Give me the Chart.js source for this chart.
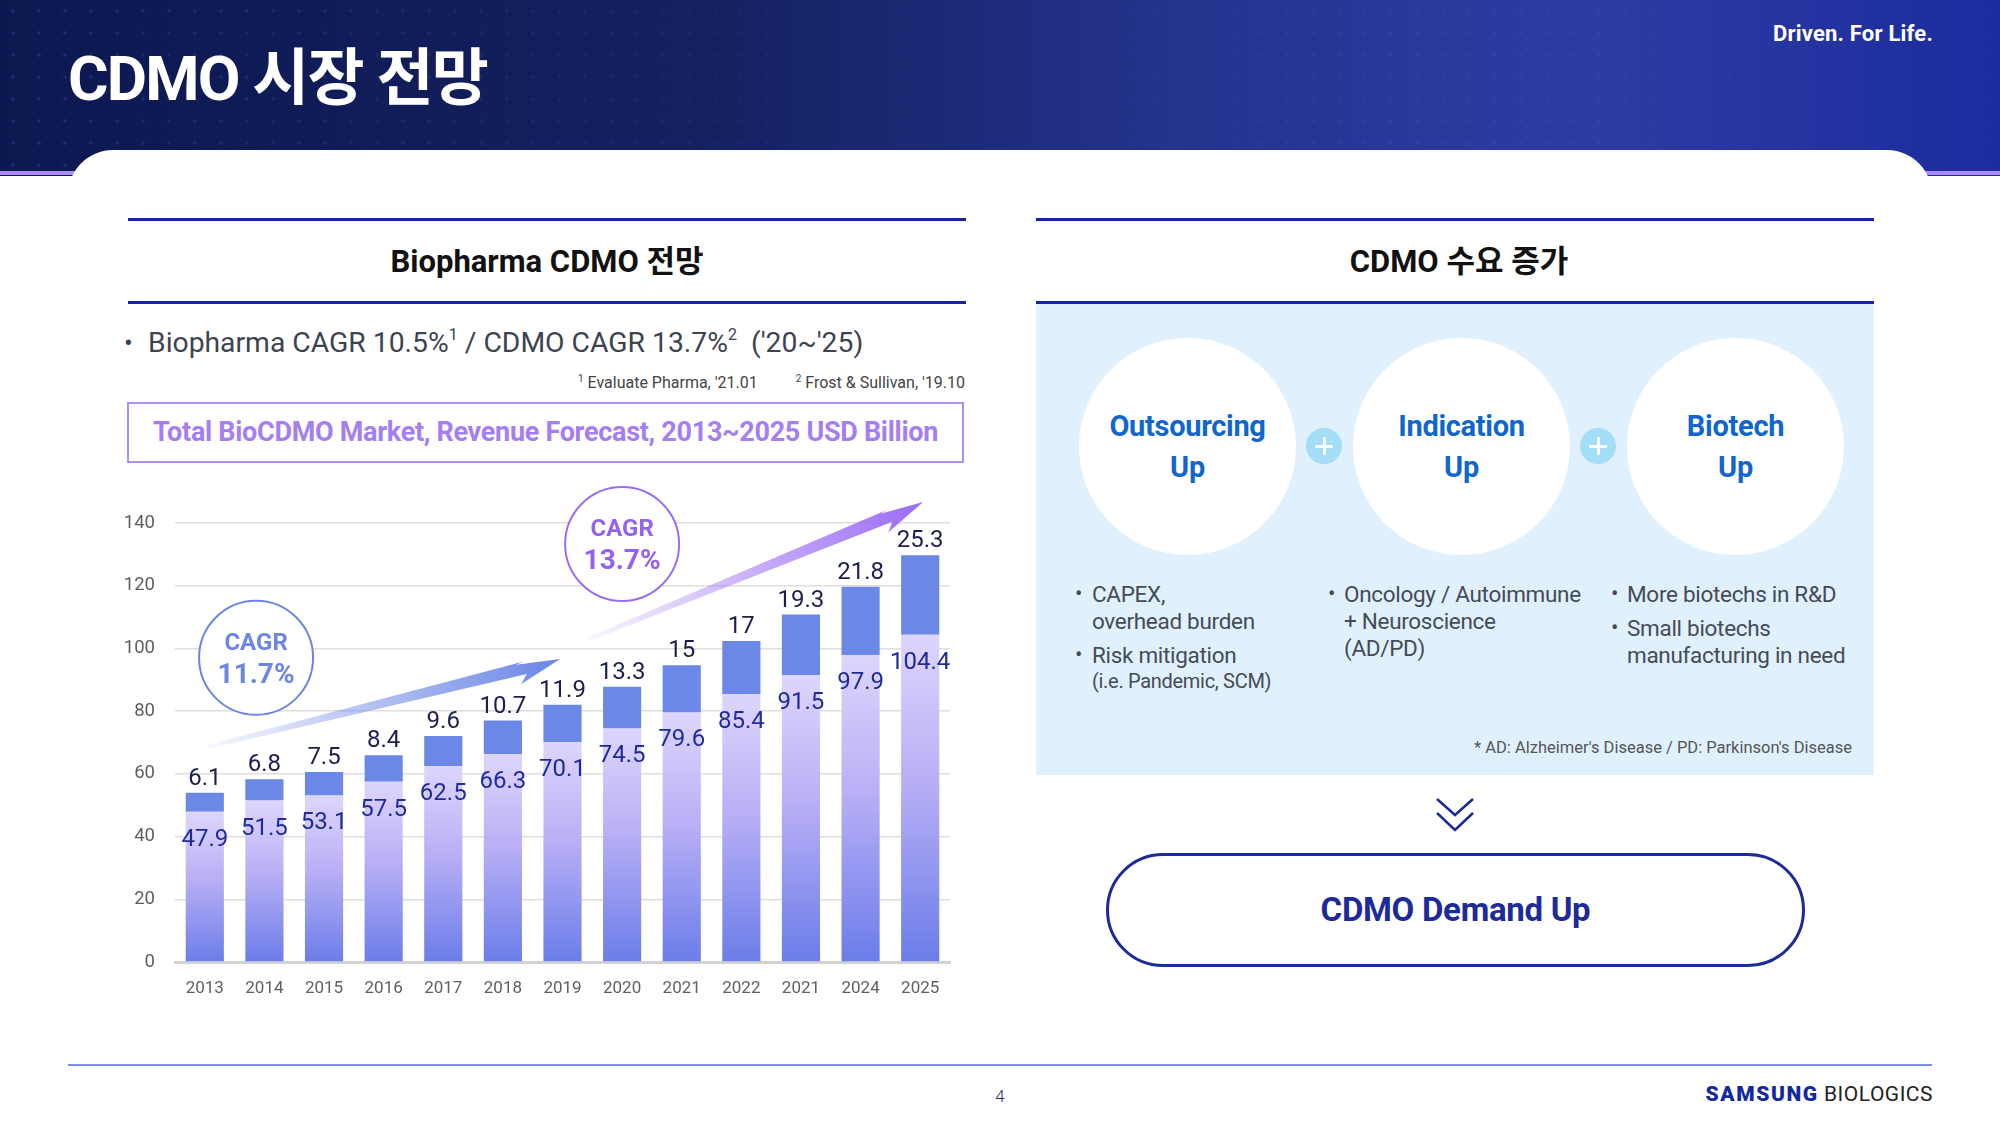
<!DOCTYPE html>
<html lang="ko">
<head>
<meta charset="utf-8">
<script src="https://cdn.jsdelivr.net/npm/chart.js@4.4.0/dist/chart.umd.min.js"></script>
<style>
  html, body { margin:0; padding:0; width:2000px; height:1125px; overflow:hidden; background:#fff; }
  body { position:relative; font-family: "Roboto", "Noto Sans CJK KR", sans-serif; }
  .abs { position:absolute; white-space:nowrap; }
  #header { left:0; top:0; width:2000px; height:176px;
    background: linear-gradient(90deg, #0c1850 0%, #13215f 35%, #25348f 60%, #2d3ca3 80%, #1c2b9e 100%); }
  #header::after { content:""; position:absolute; left:0; top:0; right:0; bottom:0;
    background-image: radial-gradient(circle, rgba(120,130,230,0.35) 1.6px, transparent 2.2px);
    background-size: 26px 22px; opacity:0.45;
    -webkit-mask-image: linear-gradient(90deg, rgba(0,0,0,0.9) 0%, rgba(0,0,0,0.5) 30%, rgba(0,0,0,0) 50%, rgba(0,0,0,0.6) 70%, rgba(0,0,0,0.1) 100%);
    mask-image: linear-gradient(90deg, rgba(0,0,0,0.9) 0%, rgba(0,0,0,0.5) 30%, rgba(0,0,0,0) 50%, rgba(0,0,0,0.6) 70%, rgba(0,0,0,0.1) 100%); }
  #purpleLine { left:0; top:171px; width:2000px; height:4px; background:#a98bf5; }
  #card { left:68px; top:150px; width:1864px; height:975px; background:#fff; border-radius:45px 45px 0 0; }
  .navyLine { height:3px; background:#17279a; }
  .circle { border-radius:50%; background:#fff; }
  .plus { width:36px; height:36px; border-radius:50%; background:#a3ddf6; }
  .plus::before, .plus::after { content:""; position:absolute; background:#fff; border-radius:1px; }
  .plus::before { left:9px; top:16.5px; width:18px; height:3px; }
  .plus::after { left:16.5px; top:9px; width:3px; height:18px; }
  .ctext { color:#1066cf; font-weight:700; font-size:29px; text-align:center; line-height:34px; letter-spacing:-0.3px; }
  .btext { color:#454b57; font-size:22.5px; line-height:28px; letter-spacing:-0.3px; }
  .dot { color:#454b57; font-size:22px; line-height:28px; }
</style>
</head>
<body>
<div id="header" class="abs"></div>
<div id="purpleLine" class="abs"></div>
<div id="card" class="abs"></div>

<div class="abs" style="left:68px; top:43px; font-size:62px; line-height:72px; font-weight:700; color:#fff; letter-spacing:-1.8px;">CDMO 시장 전망</div>
<div class="abs" style="right:67px; top:21px; font-size:22px; line-height:26px; font-weight:700; color:#fff; letter-spacing:0.2px;">Driven. For Life.</div>

<!-- Left panel -->
<div class="abs navyLine" style="left:128px; top:218px; width:838px;"></div>
<div class="abs navyLine" style="left:128px; top:301px; width:838px;"></div>
<div class="abs" style="left:128px; top:244px; width:838px; text-align:center; font-size:31px; line-height:36px; font-weight:700; color:#111;">Biopharma CDMO 전망</div>
<div class="abs" style="left:124px; top:326px; font-size:26px; line-height:34px; color:#3d4350;">•</div>
<div class="abs" style="left:148px; top:326px; font-size:28.3px; line-height:34px; color:#3d4350;">Biopharma CAGR 10.5%<span style="font-size:16px; position:relative; top:-12px;">1</span> / CDMO CAGR 13.7%<span style="font-size:16px; position:relative; top:-12px;">2</span>&nbsp; ('20~'25)</div>
<div class="abs" style="right:1035px; top:373px; font-size:16px; line-height:20px; color:#444;"><span style="font-size:10px; position:relative; top:-6px;">1</span> Evaluate Pharma, '21.01<span style="display:inline-block; width:38px;"></span><span style="font-size:10px; position:relative; top:-6px;">2</span> Frost &amp; Sullivan, '19.10</div>
<div class="abs" style="left:127px; top:402px; width:833px; height:57px; border:2px solid #ab90f6; text-align:center; font-size:27px; line-height:57px; font-weight:700; color:#a57ef3; letter-spacing:-0.3px;">Total BioCDMO Market, Revenue Forecast, 2013~2025 USD Billion</div>

<canvas id="chart" class="abs" width="870" height="540" style="left:100px; top:470px; width:870px; height:540px;"></canvas>

<!-- Right panel -->
<div class="abs navyLine" style="left:1036px; top:218px; width:838px;"></div>
<div class="abs" style="left:1040px; top:244px; width:838px; text-align:center; font-size:31px; line-height:36px; font-weight:700; color:#111;">CDMO 수요 증가</div>
<div class="abs" style="left:1036px; top:302px; width:838px; height:473px; background:#e0f1fd;"></div>
<div class="abs navyLine" style="left:1036px; top:301px; width:838px;"></div>

<div class="abs circle" style="left:1079px; top:338px; width:217px; height:217px;"></div>
<div class="abs circle" style="left:1353px; top:338px; width:217px; height:217px;"></div>
<div class="abs circle" style="left:1627px; top:338px; width:217px; height:217px;"></div>
<div class="abs ctext" style="left:1079px; width:217px; top:409px;">Outsourcing</div>
<div class="abs ctext" style="left:1079px; width:217px; top:450px;">Up</div>
<div class="abs ctext" style="left:1353px; width:217px; top:409px;">Indication</div>
<div class="abs ctext" style="left:1353px; width:217px; top:450px;">Up</div>
<div class="abs ctext" style="left:1627px; width:217px; top:409px;">Biotech</div>
<div class="abs ctext" style="left:1627px; width:217px; top:450px;">Up</div>
<div class="abs plus" style="left:1306px; top:428px;"></div>
<div class="abs plus" style="left:1580px; top:428px;"></div>

<div class="abs dot" style="left:1075px; top:580px;">•</div>
<div class="abs btext" style="left:1092px; top:580px;">CAPEX,</div>
<div class="abs btext" style="left:1092px; top:607px;">overhead burden</div>
<div class="abs dot" style="left:1075px; top:641px;">•</div>
<div class="abs btext" style="left:1092px; top:641px;">Risk mitigation</div>
<div class="abs btext" style="left:1092px; top:669px; font-size:20px; line-height:24px;">(i.e. Pandemic, SCM)</div>

<div class="abs dot" style="left:1328px; top:580px;">•</div>
<div class="abs btext" style="left:1344px; top:580px;">Oncology / Autoimmune</div>
<div class="abs btext" style="left:1344px; top:607px;">+ Neuroscience</div>
<div class="abs btext" style="left:1344px; top:634px;">(AD/PD)</div>

<div class="abs dot" style="left:1611px; top:580px;">•</div>
<div class="abs btext" style="left:1627px; top:580px;">More biotechs in R&amp;D</div>
<div class="abs dot" style="left:1611px; top:614px;">•</div>
<div class="abs btext" style="left:1627px; top:614px;">Small biotechs</div>
<div class="abs btext" style="left:1627px; top:641px;">manufacturing in need</div>

<div class="abs" style="right:148px; top:738px; font-size:16.5px; line-height:20px; color:#555;">* AD: Alzheimer's Disease / PD: Parkinson's Disease</div>

<svg class="abs" style="left:1434px; top:796px;" width="42" height="38" viewBox="0 0 42 38">
  <polyline points="3,3 21,19 39,3" fill="none" stroke="#1c2a9c" stroke-width="2.5"/>
  <polyline points="3,17 21,34 39,17" fill="none" stroke="#1c2a9c" stroke-width="2.5"/>
</svg>
<div class="abs" style="left:1106px; top:853px; width:693px; height:108px; border:3px solid #1c2a9c; border-radius:57px; text-align:center; font-size:33px; line-height:108px; font-weight:700; color:#1c2a9c; letter-spacing:-0.3px;">CDMO Demand Up</div>

<!-- Footer -->
<div class="abs" style="left:68px; top:1064px; width:1864px; height:2px; background:#7b8fe6;"></div>
<div class="abs" style="left:990px; top:1085px; width:20px; text-align:center; font-size:17px; line-height:22px; color:#2b3170; font-weight:300;">4</div>
<div class="abs" style="right:67px; top:1081px; font-size:21px; line-height:26px;"><span style="font-weight:900; color:#1428a0; letter-spacing:1.6px;">SAMSUNG</span> <span style="color:#222; letter-spacing:0.5px;">BIOLOGICS</span></div>

<script>
// ---- Data ----
const years = ['2013','2014','2015','2016','2017','2018','2019','2020','2021','2022','2021','2024','2025'];
const baseValues = [47.9, 51.5, 53.1, 57.5, 62.5, 66.3, 70.1, 74.5, 79.6, 85.4, 91.5, 97.9, 104.4];
const growthValues = [6.1, 6.8, 7.5, 8.4, 9.6, 10.7, 11.9, 13.3, 15, 17, 19.3, 21.8, 25.3];
const yTicks = [0, 20, 40, 60, 80, 100, 120, 140];
const cagrTexts = [['CAGR', '11.7%'], ['CAGR', '13.7%']];

// ---- Decorations (placed in data coordinates: [category index, value]) ----
const badgeSpecs = [
  { text: cagrTexts[0], at: [0.86, 97], stroke: '#6b86e6', color: '#6b86e6' },
  { text: cagrTexts[1], at: [7.0, 133.3], stroke: '#9b6cf5', color: '#9461f0' }
];
const arrowSpecs = [
  { from: [0.05, 68.6], to: [5.96, 96.6], color: [107,134,230] },
  { from: [6.41, 102.7], to: [12.05, 146.7], color: [155,108,245] }
];

const FONT = 'Roboto, "Noto Sans CJK KR", sans-serif';

function baseGradient(ctx) {
  const chart = ctx.chart;
  const area = chart.chartArea;
  if (!area || ctx.type !== 'data') return '#b8aff5';
  const y = chart.scales.y;
  const top = y.getPixelForValue(ctx.raw);
  const bottom = y.getPixelForValue(0);
  const g = chart.ctx.createLinearGradient(0, top, 0, bottom);
  g.addColorStop(0, '#ded5fd');
  g.addColorStop(0.45, '#b8aff5');
  g.addColorStop(1, '#6b7de9');
  return g;
}

const labelPlugin = {
  id: 'valueLabels',
  afterDatasetsDraw(chart) {
    const c = chart.ctx;
    const xs = chart.scales.x, ys = chart.scales.y;
    // arrows
    arrowSpecs.forEach(a => {
      const x0 = xs.getPixelForValue(a.from[0]), y0 = ys.getPixelForValue(a.from[1]);
      const x1 = xs.getPixelForValue(a.to[0]), y1 = ys.getPixelForValue(a.to[1]);
      const dx = x1 - x0, dy = y1 - y0, len = Math.hypot(dx, dy);
      const ux = dx / len, uy = dy / len, nx = -uy, ny = ux;
      const headLen = 44, headW = 15, tailW = 2, neckW = 6.5;
      const bx = x1 - ux * headLen, by = y1 - uy * headLen;
      const g = c.createLinearGradient(x0, y0, x1, y1);
      const [r, gg, b] = a.color;
      g.addColorStop(0, `rgba(${r},${gg},${b},0.05)`);
      g.addColorStop(0.5, `rgba(${r},${gg},${b},0.55)`);
      g.addColorStop(1, `rgba(${r},${gg},${b},1)`);
      c.save();
      c.fillStyle = g;
      c.beginPath();
      c.moveTo(x0 + nx * tailW, y0 + ny * tailW);
      c.lineTo(bx + ux * 8 + nx * neckW, by + uy * 8 + ny * neckW);
      c.lineTo(bx + nx * headW, by + ny * headW);
      c.lineTo(x1, y1);
      c.lineTo(bx - nx * headW * 0.35, by - ny * headW * 0.35);
      c.lineTo(bx + ux * 8 - nx * neckW, by + uy * 8 - ny * neckW);
      c.lineTo(x0 - nx * tailW, y0 - ny * tailW);
      c.closePath();
      c.fill();
      c.restore();
    });
    // badges
    badgeSpecs.forEach(bd => {
      const cx = xs.getPixelForValue(bd.at[0]), cy = ys.getPixelForValue(bd.at[1]);
      c.save();
      c.beginPath();
      c.arc(cx, cy, 57, 0, Math.PI * 2);
      c.fillStyle = '#fff';
      c.fill();
      c.lineWidth = 2;
      c.strokeStyle = bd.stroke;
      c.stroke();
      c.fillStyle = bd.color;
      c.textAlign = 'center';
      c.textBaseline = 'middle';
      c.font = `700 24px ${FONT}`;
      c.fillText(bd.text[0], cx, cy - 14);
      c.font = `700 28px ${FONT}`;
      c.fillText(bd.text[1], cx, cy + 18);
      c.restore();
    });
    // value labels
    c.save();
    c.textAlign = 'center';
    c.textBaseline = 'middle';
    c.font = `400 24px ${FONT}`;
    chart.getDatasetMeta(0).data.forEach((bar, i) => {
      c.fillStyle = '#1e2c9b';
      c.fillText(String(baseValues[i]), bar.x, bar.y + 28);
    });
    chart.getDatasetMeta(1).data.forEach((bar, i) => {
      c.fillStyle = '#1a1f4f';
      c.fillText(String(growthValues[i]), bar.x, bar.y - 14);
    });
    c.restore();
  }
};

new Chart(document.getElementById('chart'), {
  type: 'bar',
  data: {
    labels: years,
    datasets: [
      { label: 'Base', data: baseValues, backgroundColor: baseGradient, borderWidth: 0,
        barPercentage: 0.64, categoryPercentage: 1 },
      { label: 'Growth', data: growthValues, backgroundColor: '#6c88e6', borderWidth: 0,
        barPercentage: 0.64, categoryPercentage: 1 }
    ]
  },
  options: {
    responsive: false,
    animation: false,
    devicePixelRatio: 1,
    layout: { padding: { top: 53, right: 20, left: 0, bottom: 0 } },
    plugins: { legend: { display: false }, tooltip: { enabled: false } },
    scales: {
      x: {
        stacked: true,
        grid: { display: false, drawTicks: false },
        border: { display: true, color: '#d2d2d6', width: 3 },
        ticks: { color: '#5f5f5f', font: { family: FONT, size: 17 }, padding: 17, maxRotation: 0, autoSkip: false },
        afterFit(scale) { scale.height = 48; }
      },
      y: {
        stacked: true,
        min: 0, max: 140,
        afterBuildTicks(scale) { scale.ticks = yTicks.map(v => ({ value: v })); },
        grid: { color: '#dedede', lineWidth: 1.5, drawTicks: false },
        border: { display: false },
        ticks: { color: '#5f5f5f', font: { family: FONT, size: 18.5 }, padding: 20 },
        afterFit(scale) { scale.width = 75; }
      }
    }
  },
  plugins: [labelPlugin]
});
</script>
</body>
</html>
